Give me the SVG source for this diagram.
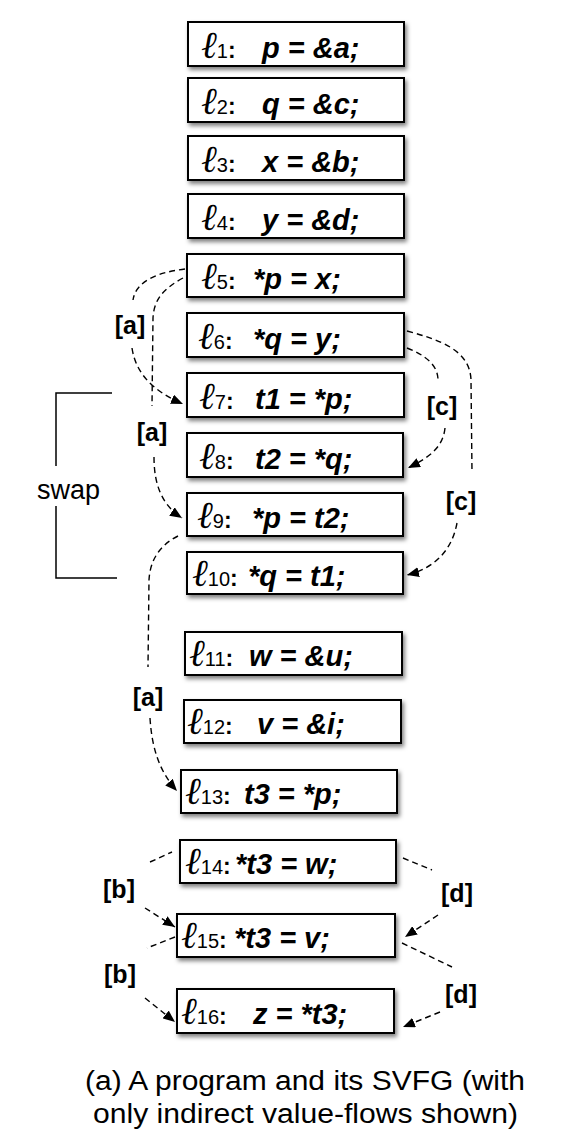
<svg xmlns="http://www.w3.org/2000/svg" width="570" height="1143" viewBox="0 0 570 1143">
<defs>
<filter id="sh" x="-10%" y="-20%" width="130%" height="160%">
<feDropShadow dx="2" dy="3" stdDeviation="2" flood-color="#000" flood-opacity="0.5"/>
</filter>
<marker id="ah" viewBox="0 0 12 10" refX="12" refY="5" markerWidth="12" markerHeight="10" markerUnits="userSpaceOnUse" orient="auto">
<path d="M0,0 L12,5 L0,10 z" fill="#000"/>
</marker>
</defs>
<style>
.box{fill:#fff;stroke:#000;stroke-width:2;filter:url(#sh)}
.ell{font-family:"Liberation Serif","DejaVu Serif",serif;font-style:italic;font-size:38px}
.sub{font-family:"Liberation Sans",Arial,sans-serif;font-size:20px}
.col{font-family:"Liberation Sans",Arial,sans-serif;font-size:23px;font-weight:bold}
.st{font-family:"Liberation Sans",Arial,sans-serif;font-size:29px;font-weight:bold;font-style:italic}
.lab{font-family:"Liberation Sans",Arial,sans-serif;font-size:25px;font-weight:bold;text-anchor:middle}
.cap{font-family:"Liberation Sans",Arial,sans-serif;font-size:27px}
.d{fill:none;stroke:#000;stroke-width:1.4;stroke-dasharray:6,4}
.br{fill:none;stroke:#000;stroke-width:1.5}
</style>

<g id="n1"><rect class="box" x="188" y="22" width="216" height="44"/><text x="201" y="58"><tspan class="ell">ℓ</tspan><tspan class="sub">1</tspan><tspan class="col">:</tspan></text><text class="st" x="262" y="58">p = &amp;a;</text></g>
<g id="n2"><rect class="box" x="188" y="78" width="216" height="44"/><text x="201" y="114"><tspan class="ell">ℓ</tspan><tspan class="sub">2</tspan><tspan class="col">:</tspan></text><text class="st" x="262" y="114">q = &amp;c;</text></g>
<g id="n3"><rect class="box" x="188" y="136" width="216" height="44"/><text x="201" y="172"><tspan class="ell">ℓ</tspan><tspan class="sub">3</tspan><tspan class="col">:</tspan></text><text class="st" x="262" y="172">x = &amp;b;</text></g>
<g id="n4"><rect class="box" x="188" y="194" width="216" height="44"/><text x="201" y="230"><tspan class="ell">ℓ</tspan><tspan class="sub">4</tspan><tspan class="col">:</tspan></text><text class="st" x="262" y="230">y = &amp;d;</text></g>
<g id="n5"><rect class="box" x="187" y="254" width="217" height="43"/><text x="201" y="289"><tspan class="ell">ℓ</tspan><tspan class="sub">5</tspan><tspan class="col">:</tspan></text><text class="st" x="253" y="289">*p = x;</text></g>
<g id="n6"><rect class="box" x="187" y="313" width="217" height="44"/><text x="198" y="349"><tspan class="ell">ℓ</tspan><tspan class="sub">6</tspan><tspan class="col">:</tspan></text><text class="st" x="253" y="349">*q = y;</text></g>
<g id="n7"><rect class="box" x="187" y="373" width="217" height="44"/><text x="199" y="409"><tspan class="ell">ℓ</tspan><tspan class="sub">7</tspan><tspan class="col">:</tspan></text><text class="st" x="255" y="409">t1 = *p;</text></g>
<g id="n8"><rect class="box" x="187" y="433" width="216" height="44"/><text x="199" y="469"><tspan class="ell">ℓ</tspan><tspan class="sub">8</tspan><tspan class="col">:</tspan></text><text class="st" x="255" y="469">t2 = *q;</text></g>
<g id="n9"><rect class="box" x="187" y="493" width="216" height="43"/><text x="197" y="528"><tspan class="ell">ℓ</tspan><tspan class="sub">9</tspan><tspan class="col">:</tspan></text><text class="st" x="252" y="528">*p = t2;</text></g>
<g id="n10"><rect class="box" x="187" y="552" width="216" height="42"/><text x="192" y="586"><tspan class="ell">ℓ</tspan><tspan class="sub">10</tspan><tspan class="col">:</tspan></text><text class="st" x="248" y="586">*q = t1;</text></g>
<g id="n11"><rect class="box" x="185" y="632" width="217" height="43"/><text x="189" y="666"><tspan class="ell">ℓ</tspan><tspan class="sub">11</tspan><tspan class="col">:</tspan></text><text class="st" x="249" y="666">w = &amp;u;</text></g>
<g id="n12"><rect class="box" x="184" y="700" width="217" height="43"/><text x="187" y="734"><tspan class="ell">ℓ</tspan><tspan class="sub">12</tspan><tspan class="col">:</tspan></text><text class="st" x="257" y="734">v = &amp;i;</text></g>
<g id="n13"><rect class="box" x="181" y="770" width="216" height="43"/><text x="185" y="804"><tspan class="ell">ℓ</tspan><tspan class="sub">13</tspan><tspan class="col">:</tspan></text><text class="st" x="244" y="804">t3 = *p;</text></g>
<g id="n14"><rect class="box" x="180" y="840" width="216" height="43"/><text x="185" y="874"><tspan class="ell">ℓ</tspan><tspan class="sub">14</tspan><tspan class="col">:</tspan></text><text class="st" x="235" y="874">*t3 = w;</text></g>
<g id="n15"><rect class="box" x="177" y="914" width="218" height="43"/><text x="181" y="948"><tspan class="ell">ℓ</tspan><tspan class="sub">15</tspan><tspan class="col">:</tspan></text><text class="st" x="234" y="948">*t3 = v;</text></g>
<g id="n16"><rect class="box" x="177" y="989" width="217" height="44"/><text x="181" y="1024"><tspan class="ell">ℓ</tspan><tspan class="sub">16</tspan><tspan class="col">:</tspan></text><text class="st" x="253" y="1024">z = *t3;</text></g>

<g id="swap">
<path class="br" d="M112,393 L56,393 L56,466 M56,506 L56,578 L117,578"/>
<text class="cap" x="37" y="499" font-size="26">swap</text>
</g>

<g id="connectors">
<path class="d" d="M185,269 C160,272 136,280 133,300"/>
<path class="d" d="M132,348 C136,375 155,392 183,404" marker-end="url(#ah)"/>
<text class="lab" x="130" y="334">[a]</text>

<path class="d" d="M183,278 C165,288 154,298 153,318 L152,406"/>
<path class="d" d="M154,457 C154,485 162,505 182,518" marker-end="url(#ah)"/>
<text class="lab" x="152" y="441">[a]</text>

<path class="d" d="M178,536 C160,545 150,560 149,580 L148,667"/>
<path class="d" d="M150,718 C152,750 160,772 177,791" marker-end="url(#ah)"/>
<text class="lab" x="148" y="706">[a]</text>

<path class="d" d="M407,348 C425,355 438,365 438,380"/>
<path class="d" d="M445,428 C443,448 428,458 408,468" marker-end="url(#ah)"/>
<text class="lab" x="442" y="415">[c]</text>

<path class="d" d="M407,331 C440,340 470,350 471,380 L472,473"/>
<path class="d" d="M457,523 C452,550 435,568 407,575" marker-end="url(#ah)"/>
<text class="lab" x="461" y="510">[c]</text>

<path class="d" d="M150,862 L172,852"/>
<path class="d" d="M145,908 L175,927" marker-end="url(#ah)"/>
<text class="lab" x="119" y="898">[b]</text>

<path class="d" d="M175,937 L147,948"/>
<path class="d" d="M145,998 L175,1022" marker-end="url(#ah)"/>
<text class="lab" x="120" y="983">[b]</text>

<path class="d" d="M403,858 L432,870"/>
<path class="d" d="M438,915 L405,937" marker-end="url(#ah)"/>
<text class="lab" x="457" y="902">[d]</text>

<path class="d" d="M402,943 L452,967"/>
<path class="d" d="M440,1012 L403,1027" marker-end="url(#ah)"/>
<text class="lab" x="461" y="1003">[d]</text>
</g>

<g id="caption">
<text class="cap" x="85" y="1090" textLength="440" lengthAdjust="spacingAndGlyphs">(a) A program and its SVFG (with</text>
<text class="cap" x="93" y="1123" textLength="425" lengthAdjust="spacingAndGlyphs">only indirect value-flows shown)</text>
</g>
</svg>
